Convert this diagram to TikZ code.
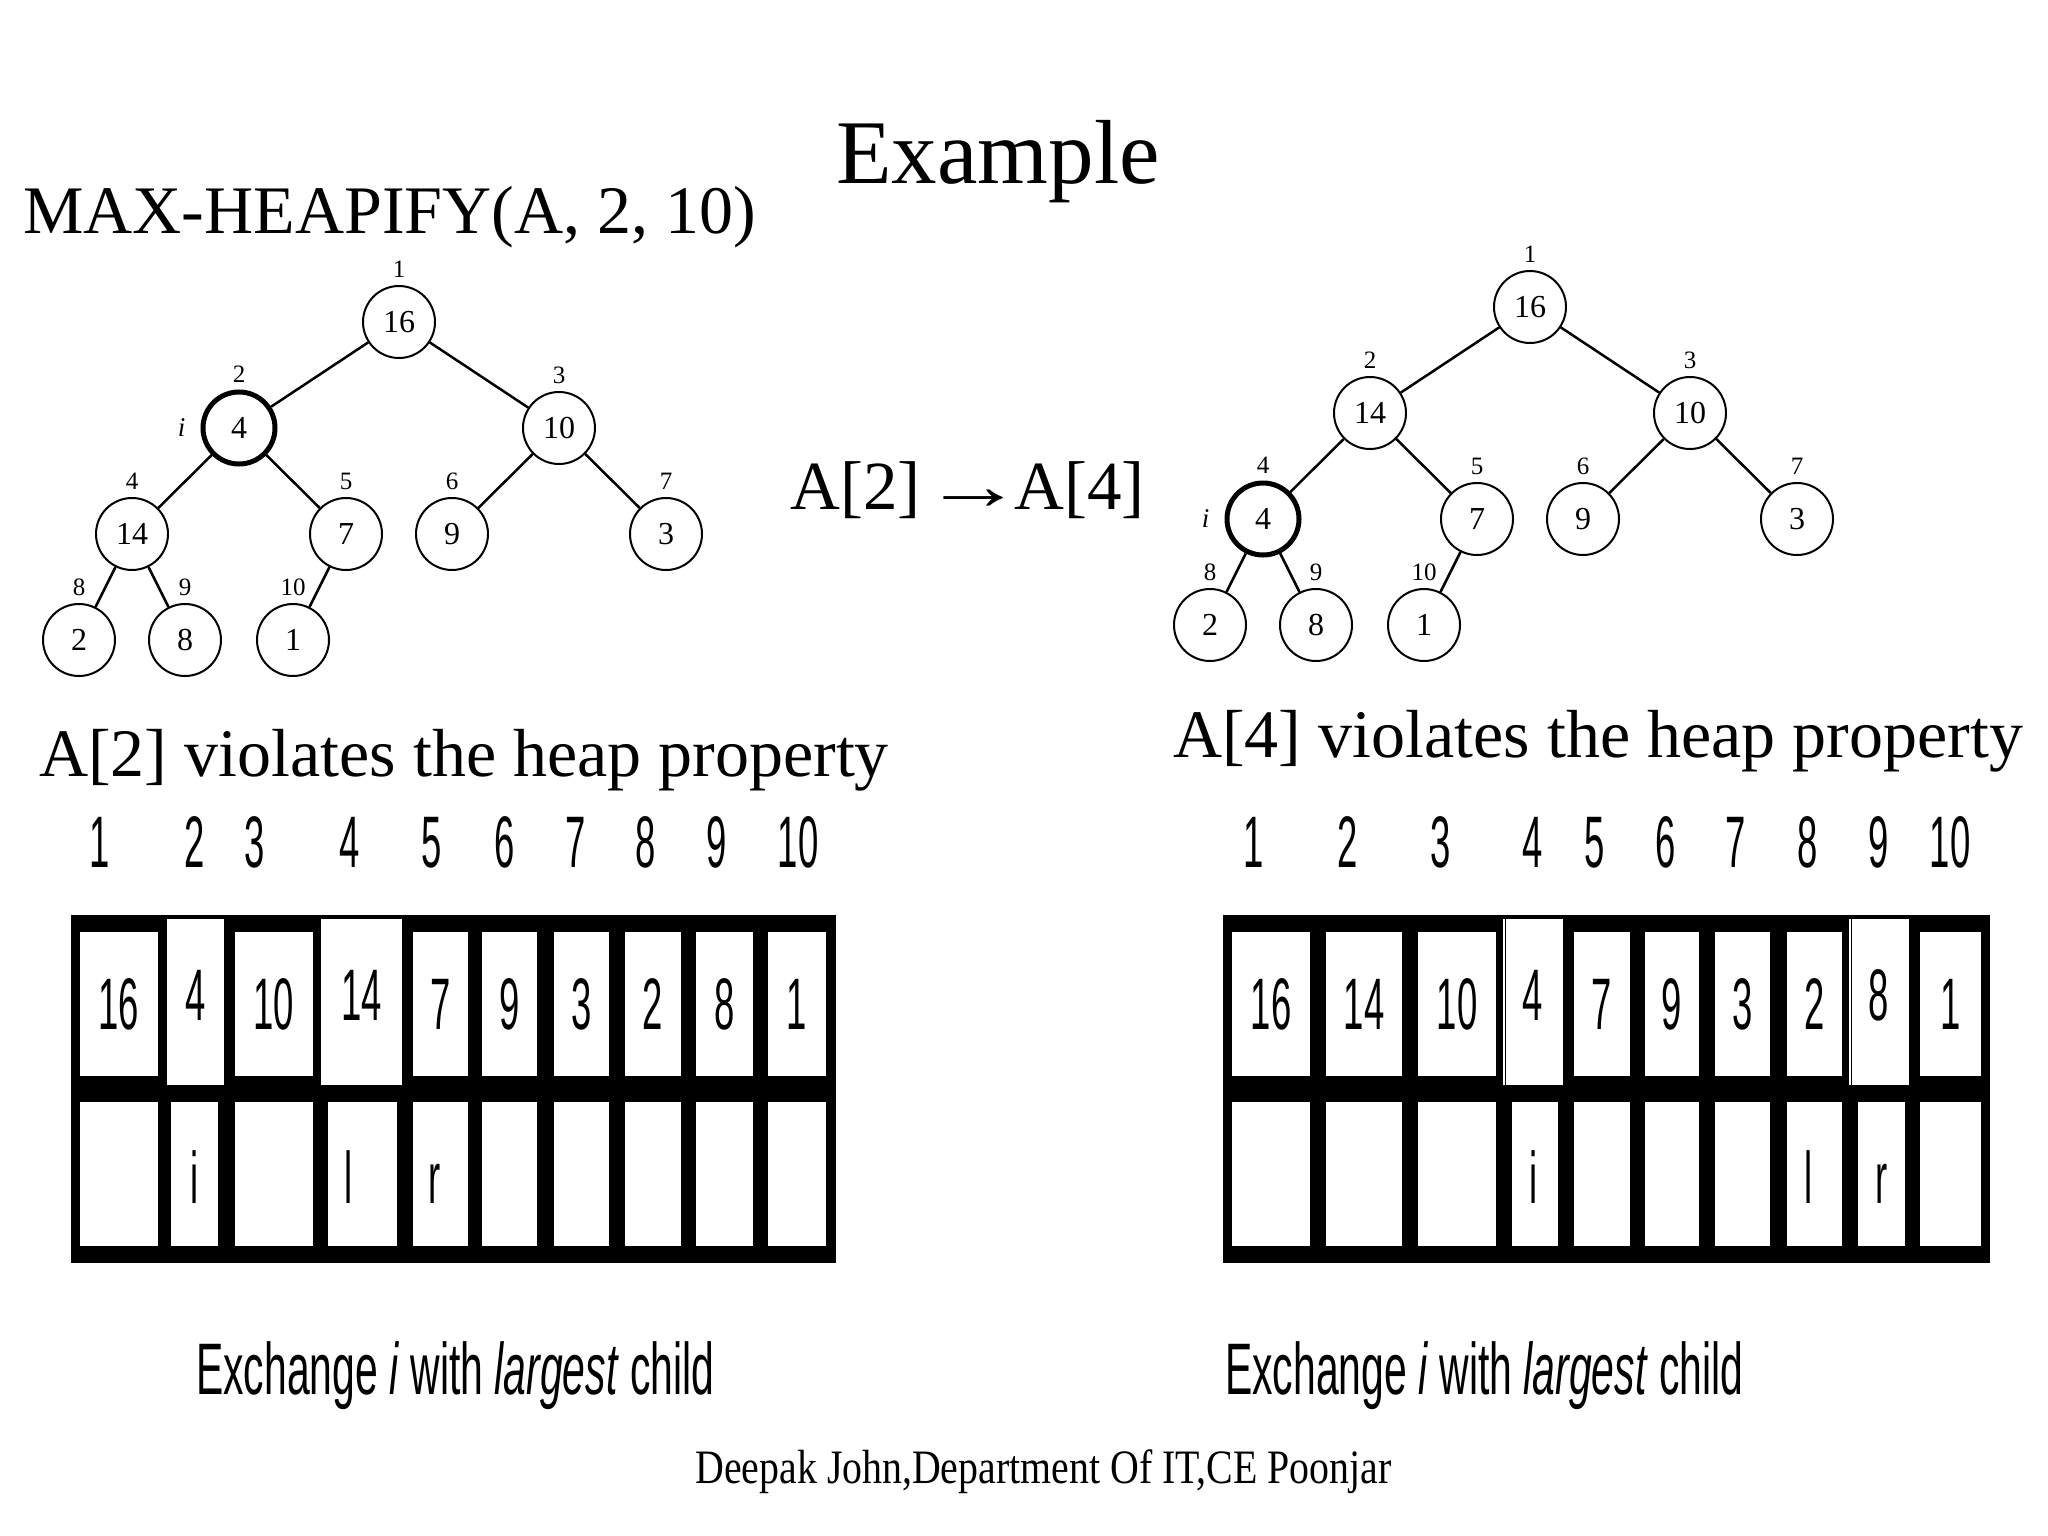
\documentclass[tikz,border=0pt]{standalone}
\usepackage{fontspec}
\setmainfont{Liberation Serif}
\newfontfamily\arrfont{Liberation Sans}
\usetikzlibrary{positioning}
\newcommand{\narrow}[1]{\scalebox{0.5}[1]{#1}}
\newcommand{\fsize}[1]{\fontsize{#1}{#1}\selectfont}

\begin{document}
\begin{tikzpicture}[x=1pt,y=-1pt,
  level distance=106pt,
  level 1/.style={sibling distance=320pt},
  level 2/.style={sibling distance=214pt},
  level 3/.style={sibling distance=106pt},
  edge from parent/.style={draw,line width=2.5pt},
  heapnode/.style={circle,draw,line width=2pt,minimum size=72pt,inner sep=0pt,font=\fsize{32}},
  marked/.style={line width=5pt},
  idx/.style={font=\fsize{25},inner sep=0pt},
  ilab/.style={font=\fsize{27}\itshape,inner sep=0pt,xshift=-8pt},
  every label/.style={label distance=7pt},
  headline/.style={inner sep=0pt,anchor=base west},
  cell/.style={fill=white,inner sep=0pt},
  arrnum/.style={font=\arrfont\fsize{73},inner sep=0pt,anchor=base}]
\fill[white] (0,0) rectangle (2048,1536);

% titles
\node[headline,font=\fsize{68}] (call) at (23,233) {MAX-HEAPIFY(A, 2, 10)};
\node[inner sep=0pt,anchor=base,font=\fsize{91}] (title) at (998,183) {Example};
\node[headline,font=\fsize{69}] (step) at (790,509) {A[2]\hspace{3pt}\scalebox{1.45}[1]{→}\hspace{-9pt}A[4]};

% heap before the exchange
\node[heapnode,label={[idx]above:1}] (a1) at (399,322) {16}
  child {node[heapnode,marked,label={[idx]above:2},label={[ilab]left:i}] (a2) {4}
    child {node[heapnode,label={[idx]above:4}] (a4) {14}
      child {node[heapnode,label={[idx]above:8}] (a8) {2}}
      child {node[heapnode,label={[idx]above:9}] (a9) {8}}
    }
    child {node[heapnode,label={[idx]above:5}] (a5) {7}
      child {node[heapnode,label={[idx]above:10}] (a10) {1}}
      child[missing]
    }
  }
  child {node[heapnode,label={[idx]above:3}] (a3) {10}
    child {node[heapnode,label={[idx]above:6}] (a6) {9}}
    child {node[heapnode,label={[idx]above:7}] (a7) {3}}
  };

% heap after the exchange
\node[heapnode,label={[idx]above:1}] (b1) at (1530,307) {16}
  child {node[heapnode,label={[idx]above:2}] (b2) {14}
    child {node[heapnode,marked,label={[idx]above:4},label={[ilab]left:i}] (b4) {4}
      child {node[heapnode,label={[idx]above:8}] (b8) {2}}
      child {node[heapnode,label={[idx]above:9}] (b9) {8}}
    }
    child {node[heapnode,label={[idx]above:5}] (b5) {7}
      child {node[heapnode,label={[idx]above:10}] (b10) {1}}
      child[missing]
    }
  }
  child {node[heapnode,label={[idx]above:3}] (b3) {10}
    child {node[heapnode,label={[idx]above:6}] (b6) {9}}
    child {node[heapnode,label={[idx]above:7}] (b7) {3}}
  };

\node[headline,font=\fsize{68}] (viol2) at (39,776) {A[2] violates the heap property};
\node[headline,font=\fsize{68}] (viol4) at (1173,757) {A[4] violates the heap property};

% left array
\fill[black] (71,915) rectangle (836,1263);
\foreach \n/\x in {1/100,2/195,3/255,4/350,5/432,6/505,7/576,8/646,9/717,10/798}
  \node[arrnum] (LI\n) at (\x,867) {\narrow{\n}};
\foreach \n/\x/\w/\v/\r in {1/119/78/16/0,2/195.5/57/4/1,3/274/78/10/0,4/361.5/81/14/1,5/440.5/55/7/0,
    6/509.5/55/9/0,7/581.5/55/3/0,8/653/56/2/0,9/724.5/57/8/0,10/797/58/1/0}{
  \ifnum\r=1
    \node[cell,minimum width=\w,minimum height=166] (LT\n) at (\x,1002) {};
    \node[arrnum] (LV\n) at (\x,1020) {\narrow{\v}};
  \else
    \node[cell,minimum width=\w,minimum height=144] (LT\n) at (\x,1004) {};
    \node[arrnum] (LV\n) at (\x,1029) {\narrow{\v}};
  \fi
}
\foreach \n/\x/\w in {1/119/78,2/194.5/47,3/274/78,4/362.5/69,5/440.5/55,6/509.5/55,7/581.5/55,8/653/56,9/724.5/57,10/797/58}
  \node[cell,minimum width=\w,minimum height=144] (LB\n) at (\x,1174) {};
\node[arrnum] (Li) at (195,1203) {\narrow{i}};
\node[arrnum] (Ll) at (349,1203) {\narrow{l}};
\node[arrnum] (Lr) at (435,1203) {\narrow{r}};

% right array
\fill[black] (1223,915) rectangle (1990,1263);
\foreach \n/\x in {1/1254,2/1348,3/1441,4/1533,5/1595,6/1666,7/1736,8/1808,9/1879,10/1950}
  \node[arrnum] (RI\n) at (\x,867) {\narrow{\n}};
\foreach \n/\x/\w/\v/\r in {1/1271/78/16/0,2/1364/76/14/0,3/1457/78/10/0,4/1533/60/4/1,5/1602/56/7/0,
    6/1672/54/9/0,7/1742.5/55/3/0,8/1814.5/55/2/0,9/1879/60/8/1,10/1950.5/61/1/0}{
  \ifnum\r=1
    \node[cell,minimum width=\w,minimum height=166] (RT\n) at (\x,1002) {};
    \node[arrnum] (RV\n) at (\x,1020) {\narrow{\v}};
  \else
    \node[cell,minimum width=\w,minimum height=144] (RT\n) at (\x,1004) {};
    \node[arrnum] (RV\n) at (\x,1029) {\narrow{\v}};
  \fi
}
\draw[line width=1.5pt] (RT4.north west) ++(2.5,0) -- ++(0,166);
\draw[line width=1.5pt] (RT9.north west) ++(2.5,0) -- ++(0,166);
\foreach \n/\x/\w in {1/1271/78,2/1364/76,3/1457/78,4/1535/46,5/1602/56,6/1672/54,7/1742.5/55,8/1814.5/55,9/1881.5/47,10/1950.5/61}
  \node[cell,minimum width=\w,minimum height=144] (RB\n) at (\x,1174) {};
\node[arrnum] (Ri) at (1534,1203) {\narrow{i}};
\node[arrnum] (Rl) at (1809,1203) {\narrow{l}};
\node[arrnum] (Rr) at (1882,1203) {\narrow{r}};

% captions
\node[headline,font=\arrfont\fsize{73}] (xchgL) at (196,1394) {\scalebox{0.56}[1]{Exchange \textit{i} with \textit{largest} child}};
\node[headline,font=\arrfont\fsize{73}] (xchgR) at (1225,1394) {\scalebox{0.56}[1]{Exchange \textit{i} with \textit{largest} child}};
\node[inner sep=0pt,anchor=base,font=\fsize{48}] (footer) at (1043.5,1483) {\scalebox{0.83}[1]{Deepak John,Department Of IT,CE Poonjar}};
\end{tikzpicture}
\end{document}
